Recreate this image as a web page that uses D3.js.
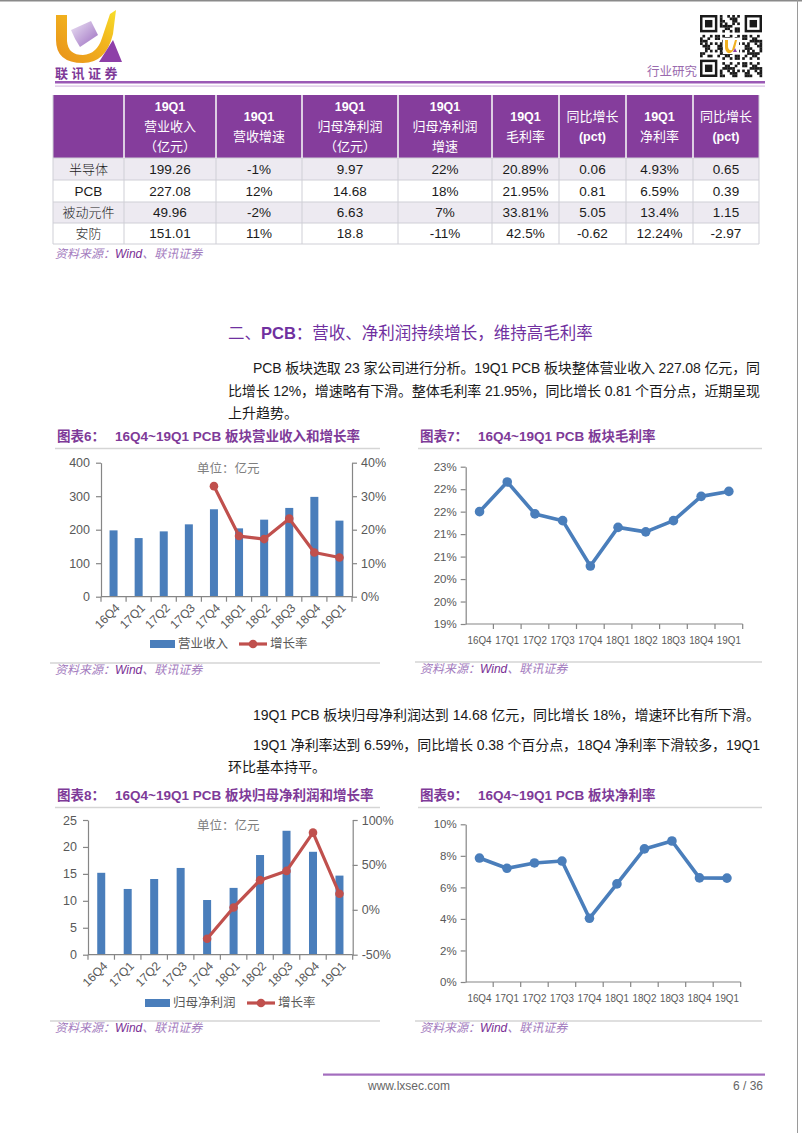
<!DOCTYPE html>
<html><head><meta charset="utf-8">
<script src="https://cdn.jsdelivr.net/npm/d3@7"></script>
<style>
html,body{margin:0;padding:0;background:#fff;}
svg{display:block;}
text{font-family:"Liberation Sans",Arial,"Noto Sans CJK SC",sans-serif;}
</style></head>
<body>
<svg id="page" width="802" height="1133"></svg>
<script>
// ---------------- DATA ----------------
const categories = ["16Q4","17Q1","17Q2","17Q3","17Q4","18Q1","18Q2","18Q3","18Q4","19Q1"];
const revenue = [198,175,195,216,261,204,230,265,298,227.08];          // 亿元
const revenueGrowth = [null,null,null,null,33.0,18.1,17.2,23.3,13.2,11.7]; // %
const grossMargin = [21.5,22.16,21.45,21.30,20.29,21.15,21.05,21.30,21.84,21.95]; // %
const netProfit = [15.2,12.2,14.05,16.1,10.15,12.4,18.5,23.0,19.1,14.68];  // 亿元
const profitGrowth = [null,null,null,null,-32.2,2.6,33.0,43.3,85.9,17.8];  // %
const netMargin = [7.86,7.21,7.55,7.67,4.04,6.22,8.44,8.94,6.60,6.59];     // %

const revTicks = [0,100,200,300,400];
const revGrowthTicks = [0,10,20,30,40];
const gmTicks = [19,19.5,20,20.5,21,21.5,22,22.5];
const npTicks = [0,5,10,15,20,25];
const npGrowthTicks = [-50,0,50,100];
const nmTicks = [0,2,4,6,8,10];

const tableSectors = ["半导体","PCB","被动元件","安防"];
const tableHeaders = [
  [],
  ["19Q1","营业收入","（亿元）"],
  ["19Q1","营收增速"],
  ["19Q1","归母净利润","（亿元）"],
  ["19Q1","归母净利润","增速"],
  ["19Q1","毛利率"],
  ["同比增长","(pct)"],
  ["19Q1","净利率"],
  ["同比增长","(pct)"]
];
const colRevenue = ["199.26","227.08","49.96","151.01"];
const colRevGrowth = ["-1%","12%","-2%","11%"];
const colProfit = ["9.97","14.68","6.63","18.8"];
const colProfitGrowth = ["22%","18%","7%","-11%"];
const colGross = ["20.89%","21.95%","33.81%","42.5%"];
const colGrossChg = ["0.06","0.81","5.05","-0.62"];
const colNet = ["4.93%","6.59%","13.4%","12.24%"];
const colNetChg = ["0.65","0.39","1.15","-2.97"];

// ---------------- PAGE ----------------
const svg = d3.select("#page");
const CJK = "'Noto Sans CJK SC','Liberation Sans',sans-serif";
const LAT = "'Liberation Sans',Arial,sans-serif";

// page border
svg.append("line").attr("x1",0).attr("x2",802).attr("y1",0.75).attr("y2",0.75).attr("stroke","#8a8a8a").attr("stroke-width",1.5);
svg.append("line").attr("x1",797.5).attr("x2",797.5).attr("y1",0).attr("y2",1133).attr("stroke","#9a9a9a").attr("stroke-width",1);

// logo
const defs = svg.append("defs");
const g1 = defs.append("linearGradient").attr("id","lgO").attr("x1","0").attr("y1","1").attr("x2","1").attr("y2","0");
g1.append("stop").attr("offset","0").attr("stop-color","#E8901A");
g1.append("stop").attr("offset","0.6").attr("stop-color","#F2B51E");
g1.append("stop").attr("offset","1").attr("stop-color","#F7DF2A");
const g2 = defs.append("linearGradient").attr("id","lgL").attr("x1","0").attr("y1","0").attr("x2","1").attr("y2","1");
g2.append("stop").attr("offset","0").attr("stop-color","#EDE4F5");
g2.append("stop").attr("offset","1").attr("stop-color","#9B6CC0");
const logo = svg.append("g");
logo.append("path").attr("d","M56,15 L67,15 L67,41 Q68,55 83,55 Q97,54 102,38 L110,14 L116,10 L113,34 Q106,63 83,63 Q56,63 56,40 Z").attr("fill","url(#lgO)");
logo.append("path").attr("d","M71,30 L91,21 L98,35 L80,47 Q75,40 71,30 Z").attr("fill","url(#lgL)");
logo.append("path").attr("d","M99,62 L122,62 L113,40 Z").attr("fill","#8E3FA8");
logo.append("text").attr("x",55).attr("y",78).attr("font-size",13).attr("font-weight","bold")
  .attr("font-family",CJK).attr("fill","#7E3A98").attr("letter-spacing",3.5).text("联讯证券");

// QR-like code
const qr = svg.append("g").attr("transform","translate(700,15)");
const N = 25, m = 62/N;
for (let i=0;i<N;i++) for (let j=0;j<N;j++){
  const inFinder = (i<8&&j<8)||(i<8&&j>=N-8)||(i>=N-8&&j<8);
  if (inFinder) continue;
  if (((i*31 + j*17 + i*j*7) % 11) < 5) qr.append("rect").attr("x",j*m).attr("y",i*m).attr("width",m+0.2).attr("height",m+0.2).attr("fill","#1a1a1a");
}
[[0,0],[0,N-7],[N-7,0]].forEach(([r,c])=>{
  qr.append("rect").attr("x",c*m).attr("y",r*m).attr("width",7*m).attr("height",7*m).attr("fill","#1a1a1a");
  qr.append("rect").attr("x",(c+1)*m).attr("y",(r+1)*m).attr("width",5*m).attr("height",5*m).attr("fill","#fff");
  qr.append("rect").attr("x",(c+2)*m).attr("y",(r+2)*m).attr("width",3*m).attr("height",3*m).attr("fill","#1a1a1a");
});
qr.append("rect").attr("x",23).attr("y",23).attr("width",16).attr("height",16).attr("fill","#fff");
qr.append("path").attr("d","M25,25 L28,25 L28,32 Q29,36 32,35 L35,25 L37,25 L35,33 Q32,39 28,38 Q25,36 25,32 Z").attr("fill","#F0B020");
qr.append("path").attr("d","M33,37 L37,37 L35,33 Z").attr("fill","#8E3FA8");

svg.append("text").attr("x",697).attr("y",76).attr("text-anchor","end").attr("font-size",12.5)
  .attr("font-family",CJK).attr("fill","#9A6AAE").text("行业研究");

svg.append("rect").attr("x",55).attr("y",81).attr("width",710).attr("height",2.5).attr("fill","#9B5AB5");
svg.append("rect").attr("x",55).attr("y",85.5).attr("width",710).attr("height",1.2).attr("fill","#D7C0E2");

// ---------------- TABLE ----------------
const colX = [53,124,216,302,398,492,559,626,693,759];
const rowY = [95,158,180,202,223,244];
const tbl = svg.append("g");
tbl.append("rect").attr("x",colX[0]).attr("y",rowY[0]).attr("width",colX[9]-colX[0]).attr("height",rowY[1]-rowY[0]).attr("fill","#853D9C");
for (let r=0;r<4;r++){
  tbl.append("rect").attr("x",colX[0]).attr("y",rowY[r+1]).attr("width",colX[9]-colX[0]).attr("height",rowY[r+2]-rowY[r+1])
    .attr("fill", r%2===0 ? "#EDEAF1" : "#FFFFFF");
}
colX.forEach((x)=>{
  tbl.append("line").attr("x1",x).attr("x2",x).attr("y1",rowY[0]).attr("y2",rowY[5])
    .attr("stroke", "#CFCFD6").attr("stroke-width", 1);
});
rowY.forEach((y,i)=>{
  if(i===0) return;
  tbl.append("line").attr("x1",colX[0]).attr("x2",colX[9]).attr("y1",y).attr("y2",y).attr("stroke","#CFCFD6").attr("stroke-width",1);
});
colX.slice(1,9).forEach(x=>{
  tbl.append("line").attr("x1",x).attr("x2",x).attr("y1",rowY[0]).attr("y2",rowY[1]).attr("stroke","#fff").attr("stroke-width",1.2);
});
tableHeaders.forEach((lines,ci)=>{
  const cx = (colX[ci]+colX[ci+1])/2, cy = (rowY[0]+rowY[1])/2;
  const lh = 20;
  lines.forEach((t,li)=>{
    const y = cy + (li - (lines.length-1)/2)*lh;
    const isLatin = /^[0-9A-Za-z()]+$/.test(t);
    tbl.append("text").attr("x",cx).attr("y",y).attr("dy","0.36em").attr("text-anchor","middle")
      .attr("font-size", isLatin ? 12.5 : 13).attr("font-weight", isLatin ? "bold" : "normal")
      .attr("font-family", isLatin ? LAT : CJK)
      .attr("fill","#fff").text(t);
  });
});
const tableCols = [tableSectors,colRevenue,colRevGrowth,colProfit,colProfitGrowth,colGross,colGrossChg,colNet,colNetChg];
tableCols.forEach((col,ci)=>{
  col.forEach((v,ri)=>{
    const cx=(colX[ci]+colX[ci+1])/2, cy=(rowY[ri+1]+rowY[ri+2])/2;
    const isCJK = /[\u4e00-\u9fff]/.test(v);
    tbl.append("text").attr("x",cx).attr("y",cy).attr("dy","0.36em").attr("text-anchor","middle")
      .attr("font-size", isCJK ? 13 : 13.5).attr("font-weight", isCJK ? 300 : "normal")
      .attr("font-family", isCJK ? CJK : LAT)
      .attr("fill","#1a1a1a").text(v);
  });
});

function sourceLine(x,y){
  const t = svg.append("text").attr("x",x).attr("y",y).attr("font-size",12).attr("font-style","italic").attr("font-family",CJK);
  t.append("tspan").attr("fill","#A37BBE").text("资料来源：");
  t.append("tspan").attr("fill","#7A2F95").attr("font-family",LAT).text("Wind");
  t.append("tspan").attr("fill","#A37BBE").text("、联讯证券");
}
sourceLine(55,258);

// ---------------- HEADING & TEXT ----------------
svg.append("text").attr("x",228).attr("y",339).attr("font-size",16.5).attr("fill","#7030A0").attr("font-family",CJK)
  .html('二、<tspan font-weight="bold" font-family="Liberation Sans,Arial,sans-serif">PCB</tspan>：营收、净利润持续增长，维持高毛利率');

function para(x,y,str,width){
  const t = svg.append("text").attr("x",x).attr("y",y).attr("font-size",14).attr("fill","#1a1a1a").attr("font-family",CJK).text(str);
  if (width) t.attr("textLength",width).attr("lengthAdjust","spacing");
}
para(253,373,"PCB 板块选取 23 家公司进行分析。19Q1 PCB 板块整体营业收入 227.08 亿元，同",507);
para(228,396,"比增长 12%，增速略有下滑。整体毛利率 21.95%，同比增长 0.81 个百分点，近期呈现",532);
para(228,418,"上升趋势。");
para(253,720,"19Q1 PCB 板块归母净利润达到 14.68 亿元，同比增长 18%，增速环比有所下滑。",507);
para(253,750,"19Q1 净利率达到 6.59%，同比增长 0.38 个百分点，18Q4 净利率下滑较多，19Q1",507);
para(228,772,"环比基本持平。");

// ---------------- CHART HELPERS ----------------
function chartTitle(x,y,num,title,lineX2){
  const t = svg.append("text").attr("x",x).attr("y",y).attr("font-size",13.5).attr("font-weight","bold").attr("fill","#7E3A98").attr("font-family",CJK);
  t.append("tspan").text("图表"+num+"：");
  t.append("tspan").attr("x",x+58).text(title);
  svg.append("line").attr("x1",x-2).attr("x2",lineX2).attr("y1",y+7.5).attr("y2",y+7.5).attr("stroke","#D5D5D5").attr("stroke-width",1.5);
}
function sourceBlock(x,y,x2){
  svg.append("line").attr("x1",x-5).attr("x2",x2).attr("y1",y-11).attr("y2",y-11).attr("stroke","#D5D5D5").attr("stroke-width",1.5);
  sourceLine(x,y);
}
const AX = "#868686", LBL = "#595959";

function styleAxis(g, size){
  g.selectAll(".domain").attr("stroke",AX).attr("stroke-width",1.2);
  g.selectAll(".tick line").attr("stroke",AX).attr("stroke-width",1.2);
  g.selectAll("text").attr("fill",LBL).attr("font-size",size).attr("font-family",LAT);
}

function comboChart(o){
  const g = svg.append("g");
  const x = d3.scaleBand().domain(categories).range([o.x0,o.x1]).paddingInner(0).paddingOuter(0);
  const yL = d3.scaleLinear().domain(o.leftDomain).range([o.yB,o.yT]);
  const yR = d3.scaleLinear().domain(o.rightDomain).range([o.yB,o.yT]);
  g.selectAll("rect.bar").data(o.bars).enter().append("rect")
    .attr("x",(d,i)=>x(categories[i])+x.bandwidth()/2-4).attr("width",8)
    .attr("y",d=>yL(d)).attr("height",d=>yL(0)-yL(d)).attr("fill","#4A7EBB");
  const la = g.append("g").attr("transform",`translate(${o.x0},0)`)
    .call(d3.axisLeft(yL).tickValues(o.leftTicks).tickSize(5).tickPadding(6).tickSizeOuter(0));
  styleAxis(la,12.5);
  const ra = g.append("g").attr("transform",`translate(${o.x1},0)`)
    .call(d3.axisRight(yR).tickValues(o.rightTicks).tickSize(5).tickPadding(4).tickSizeOuter(0).tickFormat(d=>d+"%"));
  styleAxis(ra,12.5);
  const xb = g.append("g");
  xb.append("line").attr("x1",o.x0).attr("x2",o.x1).attr("y1",yL(0)).attr("y2",yL(0)).attr("stroke",AX).attr("stroke-width",1.2);
  categories.forEach((c,i)=>{
    const bx = x(c);
    xb.append("line").attr("x1",bx).attr("x2",bx).attr("y1",yL(0)).attr("y2",yL(0)+5).attr("stroke",AX).attr("stroke-width",1.2);
    const cx = bx + x.bandwidth()/2;
    xb.append("text").attr("transform",`translate(${cx+4},${yL(0)+9}) rotate(-45)`)
      .attr("text-anchor","end").attr("dy","0.35em").attr("font-size",12).attr("fill",LBL)
      .attr("font-family",LAT).text(c);
  });
  xb.append("line").attr("x1",o.x1).attr("x2",o.x1).attr("y1",yL(0)).attr("y2",yL(0)+5).attr("stroke",AX).attr("stroke-width",1.2);
  const pts = o.line.map((v,i)=>({v,c:categories[i]})).filter(d=>d.v!==null);
  g.append("path").datum(pts).attr("fill","none").attr("stroke","#C0504D").attr("stroke-width",3.2).attr("stroke-linejoin","round")
    .attr("d",d3.line().x(d=>x(d.c)+x.bandwidth()/2).y(d=>yR(d.v)));
  g.selectAll("circle.pt").data(pts).enter().append("circle")
    .attr("cx",d=>x(d.c)+x.bandwidth()/2).attr("cy",d=>yR(d.v)).attr("r",4.3).attr("fill","#C0504D");
  g.append("text").attr("x",o.unitX).attr("y",o.yT+10).attr("font-size",12.5).attr("fill","#7F7F7F").attr("font-family",CJK).text("单位：亿元");
  const ly = o.legendY;
  g.append("rect").attr("x",o.legX).attr("y",ly-4).attr("width",25).attr("height",8).attr("fill","#4A7EBB");
  g.append("text").attr("x",o.legX+28).attr("y",ly).attr("dy","0.35em").attr("font-size",12.5).attr("fill",LBL).attr("font-family",CJK).text(o.barName);
  g.append("line").attr("x1",o.legX2).attr("x2",o.legX2+28).attr("y1",ly).attr("y2",ly).attr("stroke","#C0504D").attr("stroke-width",3.2);
  g.append("circle").attr("cx",o.legX2+14).attr("cy",ly).attr("r",4.3).attr("fill","#C0504D");
  g.append("text").attr("x",o.legX2+31).attr("y",ly).attr("dy","0.35em").attr("font-size",12.5).attr("fill",LBL).attr("font-family",CJK).text("增长率");
}

function lineChart(o){
  const g = svg.append("g");
  const x = d3.scaleBand().domain(categories).range([o.x0,o.x1]);
  const y = d3.scaleLinear().domain(o.domain).range([o.yB,o.yT]);
  const la = g.append("g").attr("transform",`translate(${o.x0},0)`)
    .call(d3.axisLeft(y).tickValues(o.ticks).tickSize(5).tickPadding(4).tickSizeOuter(0).tickFormat(o.fmt));
  styleAxis(la,11.5);
  const xb = g.append("g");
  xb.append("line").attr("x1",o.x0).attr("x2",o.x1).attr("y1",o.yB).attr("y2",o.yB).attr("stroke",AX).attr("stroke-width",1.2);
  categories.forEach((c,i)=>{
    const bx = x(c);
    if(i>0) xb.append("line").attr("x1",bx).attr("x2",bx).attr("y1",o.yB).attr("y2",o.yB+5).attr("stroke",AX).attr("stroke-width",1.2);
    xb.append("text").attr("x",bx+x.bandwidth()/2).attr("y",o.yB+16).attr("dy","0.35em").attr("text-anchor","middle")
      .attr("font-size",11).attr("fill",LBL).attr("font-family",LAT)
      .attr("textLength",24).attr("lengthAdjust","spacingAndGlyphs").text(c);
  });
  xb.append("line").attr("x1",o.x1).attr("x2",o.x1).attr("y1",o.yB).attr("y2",o.yB+5).attr("stroke",AX).attr("stroke-width",1.2);
  g.append("path").datum(o.values).attr("fill","none").attr("stroke","#4A7EBB").attr("stroke-width",3.6).attr("stroke-linejoin","round")
    .attr("d",d3.line().x((d,i)=>x(categories[i])+x.bandwidth()/2).y(d=>y(d)));
  g.selectAll("circle.pt").data(o.values).enter().append("circle")
    .attr("cx",(d,i)=>x(categories[i])+x.bandwidth()/2).attr("cy",d=>y(d)).attr("r",4.8).attr("fill","#4A7EBB");
}

// ---------------- CHART 6 ----------------
chartTitle(57,441,"6","16Q4~19Q1 PCB 板块营业收入和增长率",380);
comboChart({x0:101,x1:352,yT:462.7,yB:596.7,bars:revenue,line:revenueGrowth,
  leftDomain:[0,400],leftTicks:revTicks,rightDomain:[0,40],rightTicks:revGrowthTicks,
  unitX:197,legendY:644,legX:150,legX2:239,barName:"营业收入"});
sourceBlock(55,674,380);

// ---------------- CHART 7 ----------------
chartTitle(420,441,"7","16Q4~19Q1 PCB 板块毛利率",762);
lineChart({x0:465.7,x1:742.7,yT:466.7,yB:624,values:grossMargin,domain:[19,22.5],ticks:gmTicks,
  fmt:d=>Math.round(d+1e-9)+"%"});
sourceBlock(420,673,762);

// ---------------- CHART 8 ----------------
chartTitle(57,800,"8","16Q4~19Q1 PCB 板块归母净利润和增长率",380);
comboChart({x0:88,x1:352.7,yT:820,yB:954.7,bars:netProfit,line:profitGrowth,
  leftDomain:[0,25],leftTicks:npTicks,rightDomain:[-50,100],rightTicks:npGrowthTicks,
  unitX:197,legendY:1003,legX:145,legX2:247,barName:"归母净利润"});
sourceBlock(55,1032,380);

// ---------------- CHART 9 ----------------
chartTitle(420,800,"9","16Q4~19Q1 PCB 板块净利率",762);
lineChart({x0:465.7,x1:740.7,yT:824.3,yB:982,values:netMargin,domain:[0,10],ticks:nmTicks,fmt:d=>d+"%"});
sourceBlock(420,1032,762);

// ---------------- FOOTER ----------------
svg.append("rect").attr("x",323).attr("y",1073.5).attr("width",442).attr("height",2.2).attr("fill","#A36DBE");
svg.append("text").attr("x",368).attr("y",1090).attr("font-size",12).attr("fill","#666").text("www.lxsec.com");
svg.append("text").attr("x",763).attr("y",1090).attr("text-anchor","end").attr("font-size",12).attr("fill","#666").text("6 / 36");
</script>
</body></html>
